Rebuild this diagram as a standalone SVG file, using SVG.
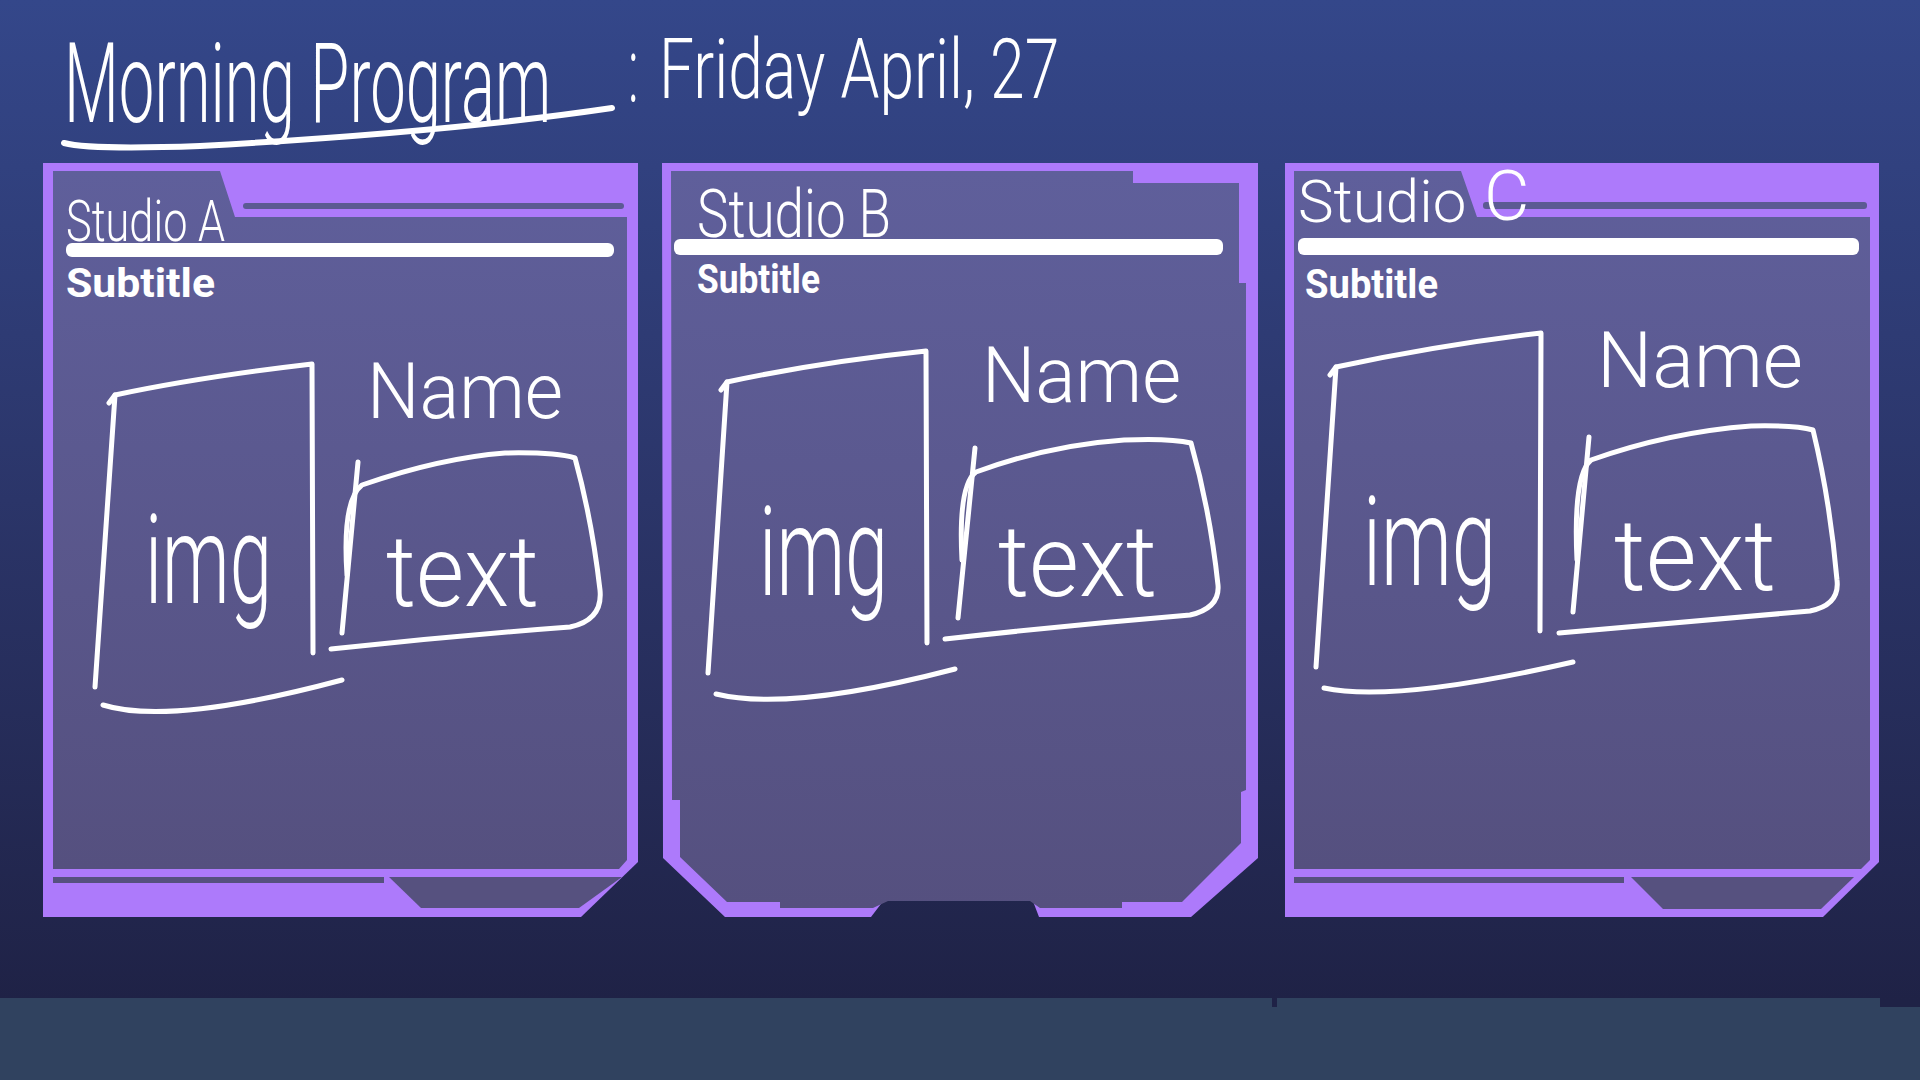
<svg xmlns="http://www.w3.org/2000/svg" width="1920" height="1080" viewBox="0 0 1920 1080">
<defs>
<linearGradient id="bg" x1="0" y1="0" x2="0" y2="1000" gradientUnits="userSpaceOnUse">
<stop offset="0" stop-color="#34478a"/>
<stop offset="0.5" stop-color="#2b3569"/>
<stop offset="1" stop-color="#1f2246"/>
</linearGradient>
<linearGradient id="inner" x1="0" y1="0" x2="0" y2="1">
<stop offset="0" stop-color="#5f5f9b"/>
<stop offset="1" stop-color="#55507f"/>
</linearGradient>
<style>
.frame{fill:#ad7afb}
.inner{fill:url(#inner)}
.groove{fill:#5c5a93}
.grooveb{fill:#56517f}
.bar{fill:#ffffff}
.ink{fill:none;stroke:#ffffff;stroke-width:5;stroke-linecap:round;stroke-linejoin:round}
.hand{fill:#ffffff;font-family:Roboto,"Liberation Sans",sans-serif;font-weight:300}
.sub{fill:#ffffff;font-family:Roboto,"Liberation Sans",sans-serif;font-weight:700}
</style>
</defs>
<rect x="0" y="0" width="1920" height="1080" fill="url(#bg)"/>
<path d="M0,998 L1272,998 L1272,1007 L1277,1007 L1277,998 L1880,998 L1880,1007 L1920,1007 L1920,1080 L0,1080 Z" fill="#30425f"/>

<g id="title">
<text class="hand" x="0" y="0" transform="matrix(0.58,0,0,1,64,122)" font-size="112" textLength="840" lengthAdjust="spacingAndGlyphs">Morning Program</text>
<path d="M64,143 Q90,150 200,146 Q450,132 612,108" fill="none" stroke="#ffffff" stroke-width="6" stroke-linecap="round"/>
<text class="hand" x="0" y="0" transform="matrix(0.7,0,0,1.25,628,102)" font-size="72">:</text>
<text class="hand" x="0" y="0" transform="matrix(0.6,0,0,1,659,98)" font-size="84" textLength="667" lengthAdjust="spacingAndGlyphs">Friday April, 27</text>
</g>

<g id="studio-a">
<path class="frame" d="M43,163 L638,163 L638,862 L581,917 L43,917 Z"/>
<path class="inner" d="M53,171 L220,171 L235,217 L627,217 L627,860 L619,869 L53,869 Z"/>
<rect class="groove" x="243" y="203" width="381" height="6" rx="3"/>
<rect class="grooveb" x="53" y="877" width="331" height="6"/>
<polygon class="grooveb" points="389,877 622,877 579,908 421,908"/>
<rect class="bar" x="66" y="243" width="548" height="14" rx="6"/>
<text class="hand" x="66" y="241" font-size="58" textLength="159" lengthAdjust="spacingAndGlyphs">Studio A</text>
<text class="sub" x="66" y="297" font-size="40" textLength="149" lengthAdjust="spacingAndGlyphs">Subtitle</text>
<path class="ink" d="M109,403 L115,395 Q200,377 312,364 L313,653"/>
<path class="ink" d="M115,395 L95,687"/>
<path class="ink" d="M103,705 Q170,726 342,680"/>
<text class="hand" x="145" y="603" font-size="125" textLength="127" lengthAdjust="spacingAndGlyphs">img</text>
<text class="hand" x="367" y="418" font-size="78" textLength="196" lengthAdjust="spacingAndGlyphs">Name</text>
<path class="ink" d="M358,462 L342,633"/>
<path class="ink" d="M347,575 Q342,500 362,485 Q440,458 505,453 Q555,452 575,458 Q592,520 600,590 Q603,620 570,627 Q450,636 331,649"/>
<text class="hand" x="386" y="606" font-size="100" textLength="153" lengthAdjust="spacingAndGlyphs">text</text>
</g>

<g id="studio-b">
<path class="frame" d="M662,163 L1258,163 L1258,858 L1191,917 L1039,917 L1031,896 L887,896 L871,917 L725,917 L663,858 Z"/>
<path class="inner" d="M671,171 L1133,171 L1133,183 L1239,183 L1239,283 L1246,283 L1246,790 L1241,792 L1241,843 L1182,902 L1122,902 L1122,908 L1040,908 L1030,901 L888,901 L873,908 L780,908 L780,902 L727,902 L680,857 L680,800 L672,800 Z"/>
<rect class="bar" x="674" y="239" width="549" height="16" rx="6"/>
<text class="hand" x="697" y="237" font-size="66" textLength="194" lengthAdjust="spacingAndGlyphs">Studio B</text>
<text class="sub" x="697" y="293" font-size="40" textLength="123" lengthAdjust="spacingAndGlyphs">Subtitle</text>
<path class="ink" d="M721,390 L727,382 Q820,362 926,351 L927,643"/>
<path class="ink" d="M727,382 L708,673"/>
<path class="ink" d="M716,694 Q790,712 955,669"/>
<text class="hand" x="759" y="595" font-size="125" textLength="129" lengthAdjust="spacingAndGlyphs">img</text>
<text class="hand" x="982" y="402" font-size="78" textLength="199" lengthAdjust="spacingAndGlyphs">Name</text>
<path class="ink" d="M975,448 L958,618"/>
<path class="ink" d="M962,560 Q958,485 976,472 Q1050,445 1124,440 Q1170,438 1191,443 Q1210,510 1218,585 Q1220,608 1190,615 Q1070,625 945,639"/>
<text class="hand" x="998" y="596" font-size="100" textLength="159" lengthAdjust="spacingAndGlyphs">text</text>
</g>

<g id="studio-c">
<path class="frame" d="M1285,163 L1879,163 L1879,862 L1823,917 L1285,917 Z"/>
<path class="inner" d="M1294,171 L1461,171 L1477,217 L1870,217 L1870,860 L1861,869 L1294,869 Z"/>
<rect class="groove" x="1483" y="202" width="384" height="7" rx="3"/>
<rect class="grooveb" x="1294" y="877" width="330" height="6"/>
<polygon class="grooveb" points="1631,877 1854,877 1821,909 1663,909"/>
<rect class="bar" x="1298" y="238" width="561" height="17" rx="6"/>
<text class="hand" x="1298" y="222" font-size="60">Studio <tspan x="1484" y="220" font-size="70">C</tspan></text>
<text class="sub" x="1305" y="298" font-size="40" textLength="133" lengthAdjust="spacingAndGlyphs">Subtitle</text>
<path class="ink" d="M1330,375 L1336,367 Q1440,345 1541,333 L1540,631"/>
<path class="ink" d="M1336,367 L1316,667"/>
<path class="ink" d="M1324,688 Q1394,703 1573,662"/>
<text class="hand" x="1363" y="585" font-size="125" textLength="133" lengthAdjust="spacingAndGlyphs">img</text>
<text class="hand" x="1597" y="387" font-size="78" textLength="206" lengthAdjust="spacingAndGlyphs">Name</text>
<path class="ink" d="M1589,437 L1573,612"/>
<path class="ink" d="M1577,560 Q1573,475 1591,460 Q1670,432 1751,426 Q1795,425 1813,430 Q1830,500 1837,580 Q1840,605 1810,611 Q1690,622 1559,633"/>
<text class="hand" x="1614" y="590" font-size="100" textLength="162" lengthAdjust="spacingAndGlyphs">text</text>
</g>
</svg>
